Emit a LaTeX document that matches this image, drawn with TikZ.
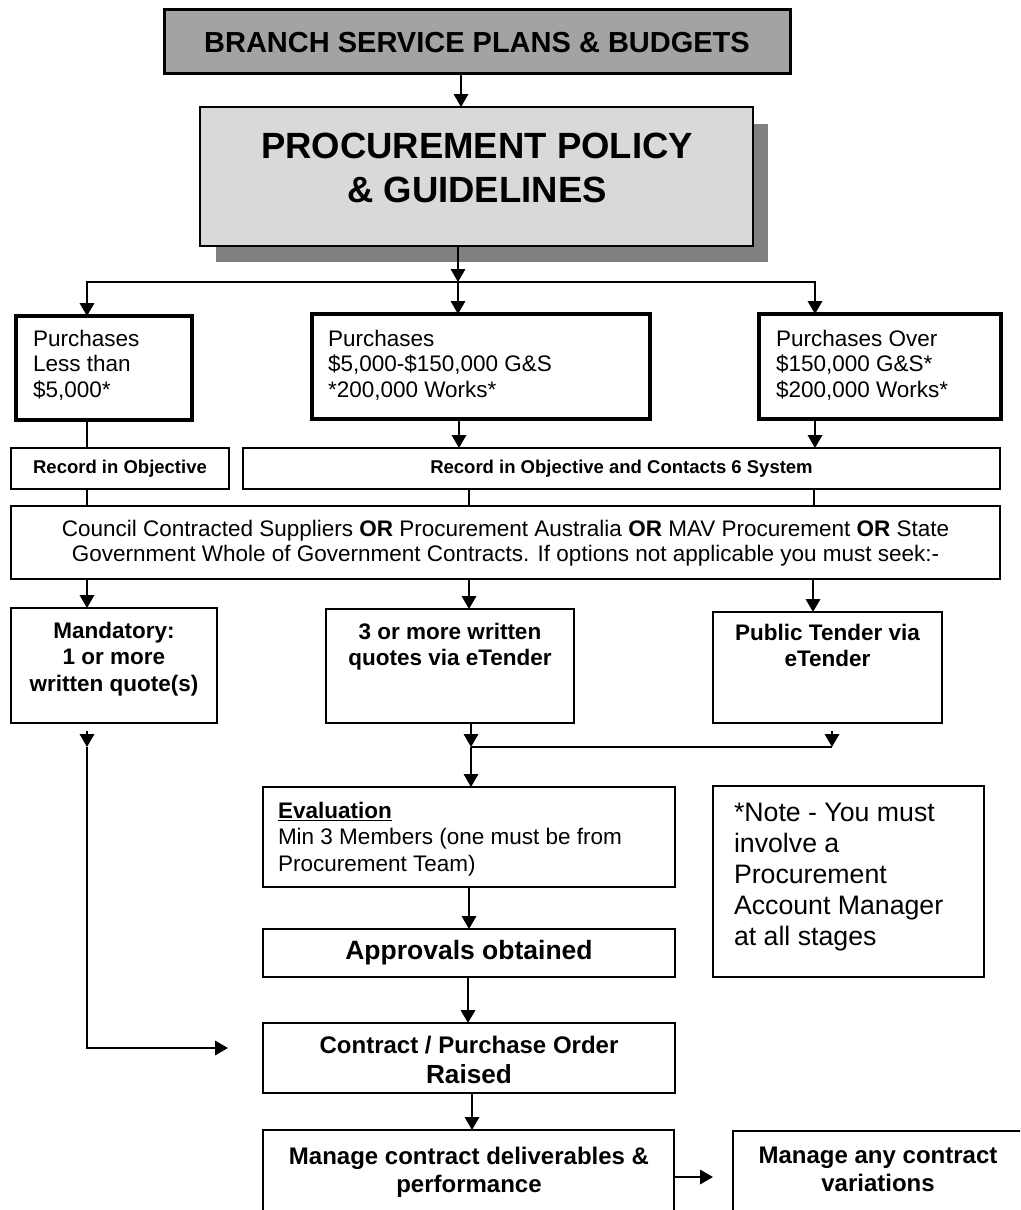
\documentclass[tikz,border=0pt]{standalone}
\usepackage{fontspec}
\setmainfont{Liberation Sans}
\usetikzlibrary{arrows.meta}
\definecolor{branchgray}{HTML}{A3A3A3}
\definecolor{procgray}{HTML}{D9D9D9}
\definecolor{shadowgray}{HTML}{808080}
\newcommand\fs[2]{\fontsize{#1}{#2}\selectfont}
\begin{document}
\begin{tikzpicture}[x=1pt,y=-1pt,
  boxbase/.style={draw, anchor=north west, inner sep=0pt, outer sep=0pt},
  thinbox/.style={boxbase, line width=1.6pt},
  thickbox/.style={boxbase, line width=3.8pt},
  txt/.style={inner sep=0pt, outer sep=0pt},
  conn/.style={line width=1.9pt},
  arr/.style={conn, -{Triangle[width=14.5pt,length=13pt]}}]
\useasboundingbox (0,0) rectangle (1020,1210);
\clip (0,0) rectangle (1020,1210);

% lanes
\coordinate (xa) at (461,0);
\coordinate (xb) at (458,0);
\coordinate (xl) at (87,0);
\coordinate (xr) at (815,0);
\coordinate (xm) at (469,0);
\coordinate (xq) at (459,0);
\coordinate (xs) at (814,0);
\coordinate (xp) at (813,0);
\coordinate (xt) at (471,0);
\coordinate (xu) at (468,0);
\coordinate (xv) at (472,0);
\coordinate (ym) at (0,1177);

% boxes
\node[boxbase, draw=none, fill=shadowgray, minimum width=552pt, minimum height=138pt] (shadow) at (216,124) {};
\node[boxbase, line width=3pt, fill=branchgray, minimum width=626pt, minimum height=64pt] (branch) at (164,9) {};
\node[thinbox, line width=1.4pt, fill=procgray, minimum width=553pt, minimum height=139pt] (proc) at (200,107) {};
\node[thickbox, minimum width=176pt, minimum height=104pt] (p1) at (16,316) {};
\node[thickbox, minimum width=338pt, minimum height=105pt] (p2) at (312,314) {};
\node[thickbox, minimum width=242pt, minimum height=105pt] (p3) at (759,314) {};
\node[thinbox, minimum width=218pt, minimum height=41pt] (rec1) at (11,448) {};
\node[thinbox, minimum width=757pt, minimum height=41pt] (rec2) at (243,448) {};
\node[thinbox, minimum width=989pt, minimum height=73pt] (council) at (11,506) {};
\node[thinbox, minimum width=206pt, minimum height=115pt] (mand) at (11,608) {};
\node[thinbox, minimum width=248pt, minimum height=114pt] (three) at (326,609) {};
\node[thinbox, minimum width=229pt, minimum height=111pt] (pub) at (713,612) {};
\node[thinbox, minimum width=412pt, minimum height=100pt] (eval) at (263,787) {};
\node[thinbox, minimum width=271pt, minimum height=191pt] (note) at (713,786) {};
\node[thinbox, minimum width=412pt, minimum height=48pt] (appr) at (263,929) {};
\node[thinbox, minimum width=412pt, minimum height=70pt] (contract) at (263,1023) {};
\node[thinbox, minimum width=411pt, minimum height=120pt] (manage) at (263,1130) {};
\node[thinbox, minimum width=295pt, minimum height=120pt] (many) at (733,1131) {};

% texts
\node[txt, anchor=north, font=\fs{29}{34}\bfseries] (tbranch) at (477,32) {BRANCH SERVICE PLANS \& BUDGETS};
\node[txt, anchor=north, align=center, font=\fs{36.5}{44}\bfseries] (tproc) at (477,133) {PROCUREMENT POLICY\\\& GUIDELINES};
\node[txt, anchor=north west, align=left, font=\fs{22.5}{25.5}] (tp1) at (33,330) {Purchases\\Less than\\\$5,000*};
\node[txt, anchor=north west, align=left, font=\fs{22.5}{25.5}] (tp2) at (328,330) {Purchases\\\$5,000-\$150,000 G\&S\\*200,000 Works*};
\node[txt, anchor=north west, align=left, font=\fs{22.5}{25.5}] (tp3) at (776,330) {Purchases Over\\\$150,000 G\&S*\\\$200,000 Works*};
\node[txt, font=\fs{18.5}{22}\bfseries] (trec1) at (rec1.center) {Record in Objective};
\node[txt, font=\fs{18.5}{22}\bfseries] (trec2) at (rec2.center) {Record in Objective and Contacts 6 System};
\node[txt, anchor=north, align=center, font=\fs{22.5}{25}] (tcouncil) at (505.5,520) {Council Contracted Suppliers \textbf{OR} Procurement Australia \textbf{OR} MAV Procurement \textbf{OR} State\\Government Whole of Government Contracts. If options not applicable you must seek:-};
\node[txt, anchor=north, align=center, font=\fs{22.5}{26.5}\bfseries] (tmand) at (114,622) {Mandatory:\\1 or more\\written quote(s)};
\node[txt, anchor=north, align=center, font=\fs{22.5}{26.5}\bfseries] (tthree) at (450,623) {3 or more written\\quotes via eTender};
\node[txt, anchor=north, align=center, font=\fs{22.5}{26.5}\bfseries] (tpub) at (827.5,624) {Public Tender via\\eTender};
\node[txt, anchor=north west, align=left, font=\fs{22.5}{26.5}] (teval) at (278,802) {\underline{\textbf{Evaluation}}\\Min 3 Members (one must be from\\Procurement Team)};
\node[txt, anchor=north west, align=left, font=\fs{26.7}{31}] (tnote) at (734,803) {*Note - You must\\involve a\\Procurement\\Account Manager\\at all stages};
\node[txt, font=\fs{26.5}{30}\bfseries] (tappr) at (appr.center) {Approvals obtained};
\node[txt, anchor=north, align=center, font=\fs{24}{30}\bfseries] (tcontract) at (469,1036) {Contract / Purchase Order\\{\fs{26.2}{30}\bfseries Raised}};
\node[txt, anchor=north, align=center, font=\fs{24}{28}\bfseries] (tmanage) at (469,1147) {Manage contract deliverables \&\\performance};
\node[txt, anchor=north, align=center, font=\fs{24}{28}\bfseries] (tmany) at (878,1147) {Manage any contract\\variations};

% connectors
\coordinate (j1) at (458,282);
\coordinate (jl) at (87,282);
\coordinate (jr) at (815,282);
\draw[arr] (branch.south -| xa) -- (proc.north -| xa);
\draw[arr] (proc.south -| xb) -- (j1);
\draw[arr] (j1) -- (p2.north -| xb);
\draw[arr] (j1) -- (jl) -- (p1.north -| xl);
\draw[arr] (j1) -- (jr) -- (p3.north -| xr);
\draw[conn] (p1.south -| xl) -- (rec1.north -| xl);
\draw[conn] (rec1.south -| xl) -- (council.north -| xl);
\draw[arr] (p2.south -| xq) -- (rec2.north -| xq);
\draw[arr] (p3.south -| xr) -- (rec2.north -| xr);
\draw[conn] (rec2.south -| xm) -- (council.north -| xm);
\draw[conn] (rec2.south -| xs) -- (council.north -| xs);
\draw[arr] (council.south -| xl) -- (mand.north -| xl);
\draw[arr] (council.south -| xm) -- (three.north -| xm);
\draw[arr] (council.south -| xp) -- (pub.north -| xp);

\coordinate (j2) at (471,747);
\coordinate (t3) at (832,731);
\coordinate (j3) at (832,747);
\coordinate (t1) at (87,731);
\coordinate (t1b) at (87,747);
\coordinate (c1corner) at (87,1048);
\coordinate (c1) at (228,1048);
\coordinate (m1) at (713,1177);
\draw[arr] (three.south -| xt) -- (j2);
\draw[arr] (j2) -- (eval.north -| xt);
\draw[arr] (t3) -- (j3);
\draw[conn] (j3) -- (j2);
\draw[arr] (t1) -- (t1b);
\draw[arr] (t1b) -- (c1corner) -- (c1);
\draw[arr] (eval.south -| xm) -- (appr.north -| xm);
\draw[arr] (appr.south -| xu) -- (contract.north -| xu);
\draw[arr] (contract.south -| xv) -- (manage.north -| xv);
\draw[arr] (manage.east |- ym) -- (m1);
\end{tikzpicture}
\end{document}
